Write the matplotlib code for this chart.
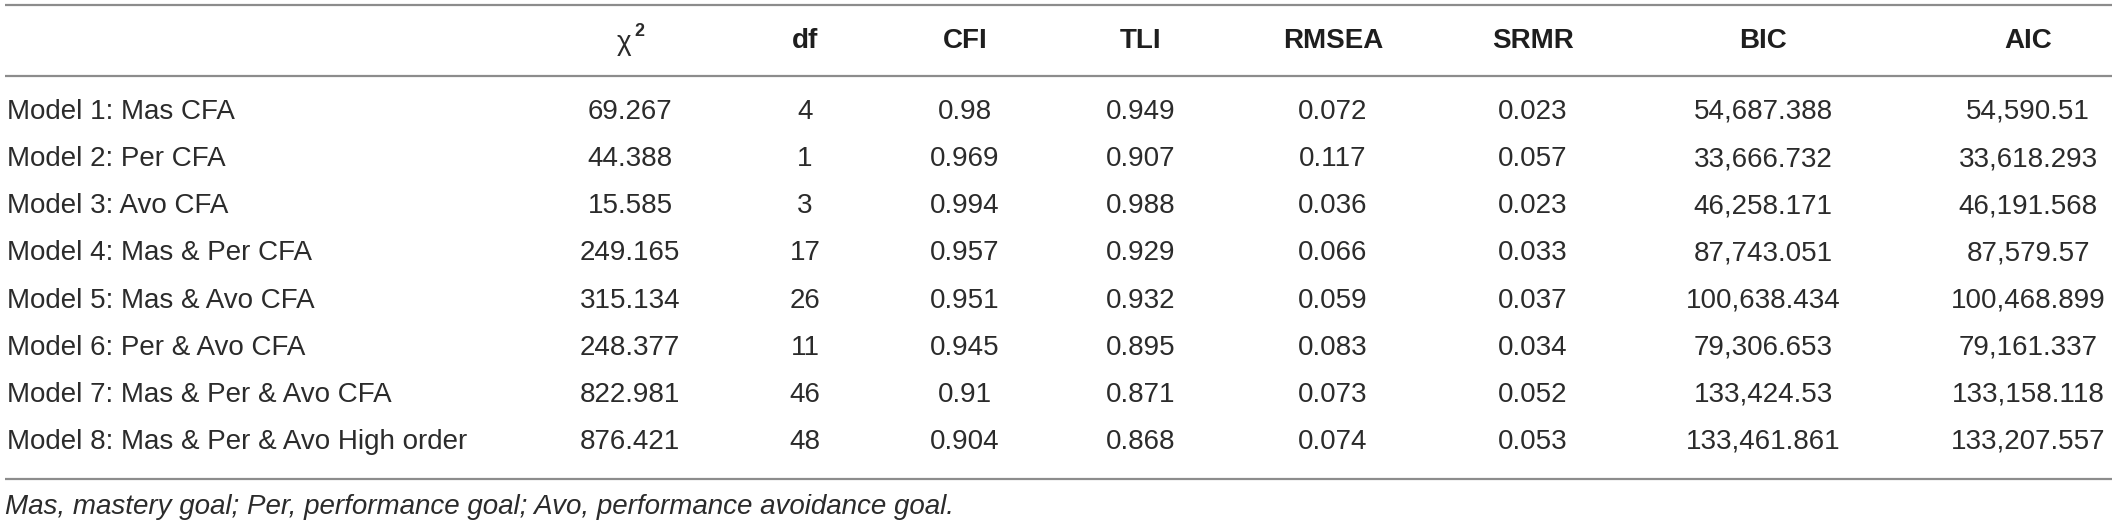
import matplotlib.pyplot as plt

models = [
    "Model 1: Mas CFA",
    "Model 2: Per CFA",
    "Model 3: Avo CFA",
    "Model 4: Mas & Per CFA",
    "Model 5: Mas & Avo CFA",
    "Model 6: Per & Avo CFA",
    "Model 7: Mas & Per & Avo CFA",
    "Model 8: Mas & Per & Avo High order",
]
chi2 = [69.267, 44.388, 15.585, 249.165, 315.134, 248.377, 822.981, 876.421]
df = [4, 1, 3, 17, 26, 11, 46, 48]
cfi = [0.98, 0.969, 0.994, 0.957, 0.951, 0.945, 0.91, 0.904]
tli = [0.949, 0.907, 0.988, 0.929, 0.932, 0.895, 0.871, 0.868]
rmsea = [0.072, 0.117, 0.036, 0.066, 0.059, 0.083, 0.073, 0.074]
srmr = [0.023, 0.057, 0.023, 0.033, 0.037, 0.034, 0.052, 0.053]
bic = [54687.388, 33666.732, 46258.171, 87743.051, 100638.434, 79306.653, 133424.53, 133461.861]
aic = [54590.51, 33618.293, 46191.568, 87579.57, 100468.899, 79161.337, 133158.118, 133207.557]

headers = ["df", "CFI", "TLI", "RMSEA", "SRMR", "BIC", "AIC"]
footnote = "Mas, mastery goal; Per, performance goal; Avo, performance avoidance goal."

W, H = 2117, 527
plt.rcParams['font.family'] = ['Liberation Sans', 'DejaVu Sans']

fig = plt.figure(figsize=(W / 100, H / 100), dpi=100)
ax = fig.add_axes([0, 0, 1, 1])
ax.set_xlim(0, W)
ax.set_ylim(H, 0)
ax.axis('off')

txt = '#2b2b2b'
fs = 20

# column centres (pixels)
col_x = [630, 805, 965, 1141, 1333, 1533, 1763, 2028]
row0, step = 112, 47.14
head_y = 41

# rules
ax.hlines([5, 76, 479], 5, 2112, color='#8c8c8c', lw=1.6)

# header
ax.text(col_x[0] - 6, head_y + 2, "χ", ha='center', va='center', fontsize=fs, color=txt)
ax.text(col_x[0] + 9, head_y - 10, "2", ha='center', va='center', fontsize=13,
        fontweight='bold', color=txt)
for x, h in zip(col_x[1:], headers):
    ax.text(x, head_y, h, ha='center', va='center', fontsize=fs, fontweight='bold',
            color='#1e1e1e')

columns = [
    [str(v) for v in chi2],
    [str(v) for v in df],
    [str(v) for v in cfi],
    [str(v) for v in tli],
    [str(v) for v in rmsea],
    [str(v) for v in srmr],
    [f"{v:,}" for v in bic],
    [f"{v:,}" for v in aic],
]

for i, m in enumerate(models):
    y = row0 + i * step
    ax.text(7, y, m, ha='left', va='center', fontsize=fs, color=txt)
    for x, col in zip(col_x, columns):
        ax.text(x, y, col[i], ha='center', va='center', fontsize=fs, color=txt)

ax.text(5, 507, footnote, ha='left', va='center', fontsize=fs, style='italic', color=txt)

fig.savefig("out.png", dpi=100)
